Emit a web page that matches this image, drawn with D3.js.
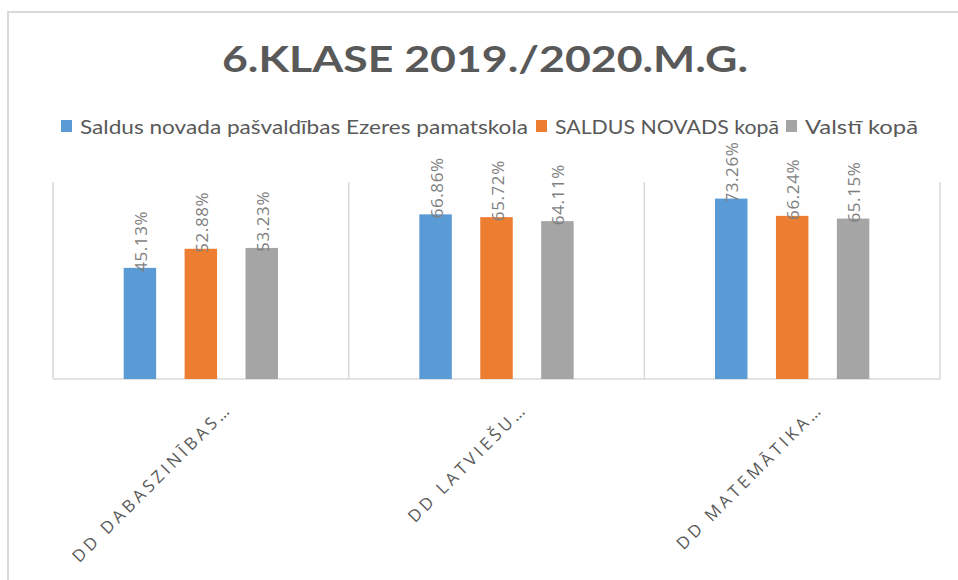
<!DOCTYPE html>
<html>
<head>
<meta charset="utf-8">
<script src="https://cdn.jsdelivr.net/npm/d3@7"></script>
<style>
html,body{margin:0;padding:0;background:#fff;}
svg{display:block;font-family:Lato,"Open Sans",sans-serif;}
</style>
</head>
<body>
<svg id="chart" width="958" height="580"></svg>
<script>
const title = "6.KLASE 2019./2020.M.G.";
const categories = ["DD DABASZINĪBAS…", "DD LATVIEŠU…", "DD MATEMĀTIKA…"];
const seriesNames = ["Saldus novada pašvaldības Ezeres pamatskola", "SALDUS NOVADS kopā", "Valstī kopā"];
const seriesColors = ["#5b9bd5", "#ed7d31", "#a5a5a5"];
const ezeres = [0.4513, 0.6686, 0.7326];
const novads = [0.5288, 0.6572, 0.6624];
const valsti = [0.5323, 0.6411, 0.6515];
const seriesValues = [ezeres, novads, valsti];

const svg = d3.select("#chart");
const W = 958, H = 580;

// chart frame
svg.append("path").attr("d", `M8,${H} L8,12 L${W},12`).attr("fill","none").attr("stroke","#d9d9d9").attr("stroke-width",2);

const plot = {left:53, right:940, top:182, bottom:379};

svg.append("text").attr("x", 485).attr("y", 72).attr("text-anchor","middle")
  .attr("font-size", 36).attr("font-weight","bold").attr("fill","#595959")
  .attr("textLength", 526).attr("lengthAdjust","spacingAndGlyphs")
  .text(title);

// legend
const legendX = [61, 536, 786];
const legendTextLen = [448, 224, 113];
seriesNames.forEach((n,i)=>{
  svg.append("rect").attr("x", legendX[i]).attr("y", 120).attr("width", 11).attr("height", 12).attr("fill", seriesColors[i]);
  svg.append("text").attr("x", legendX[i]+19).attr("y", 134).attr("font-size", 20).attr("fill","#595959")
    .attr("textLength", legendTextLen[i]).attr("lengthAdjust","spacingAndGlyphs").text(n);
});

const x0 = d3.scaleBand().domain(categories).range([plot.left, plot.right]).paddingInner(0).paddingOuter(0);
const x1 = d3.scaleBand().domain(d3.range(seriesNames.length)).range([0, x0.bandwidth()]).paddingInner(0.467).paddingOuter(1.16);
const y = d3.scaleLinear().domain([0, 0.8]).range([plot.bottom, plot.top]);

// dividers
const g = svg.append("g");
const bounds = [plot.left, ...categories.map(c => x0(c) + x0.bandwidth())];
bounds.forEach(b=>{
  g.append("line").attr("x1", b).attr("x2", b).attr("y1", plot.top).attr("y2", plot.bottom)
    .attr("stroke","#d9d9d9").attr("stroke-width",1.5);
});
g.append("line").attr("x1", plot.left).attr("x2", plot.right).attr("y1", plot.bottom).attr("y2", plot.bottom)
  .attr("stroke","#d9d9d9").attr("stroke-width",1.5);

categories.forEach((c,ci)=>{
  seriesValues.forEach((vals,si)=>{
    const bx = x0(c) + x1(si);
    g.append("rect").attr("x", bx).attr("y", y(vals[ci])).attr("width", x1.bandwidth())
      .attr("height", plot.bottom - y(vals[ci])).attr("fill", seriesColors[si]);
    const cx = bx + x1.bandwidth()/2 + 7;
    const ty = y(vals[ci]) + 4;
    g.append("text").attr("transform", `translate(${cx},${ty}) rotate(-90)`)
      .attr("font-size", 17).attr("fill","#7f7f7f").attr("letter-spacing", 0.6)
      .style("font-family","'Open Sans',sans-serif")
      .text((vals[ci]*100).toFixed(2) + "%");
  });
  // category label
  const cxc = x0(c) + x0.bandwidth()/2 + 32;
  svg.append("text").attr("transform", `translate(${cxc},${410}) rotate(-45)`)
    .attr("text-anchor","end").attr("font-size", 17).attr("fill","#595959")
    .attr("letter-spacing", 3.6).style("font-family","'Open Sans',sans-serif").text(c);
});
</script>
</body>
</html>
